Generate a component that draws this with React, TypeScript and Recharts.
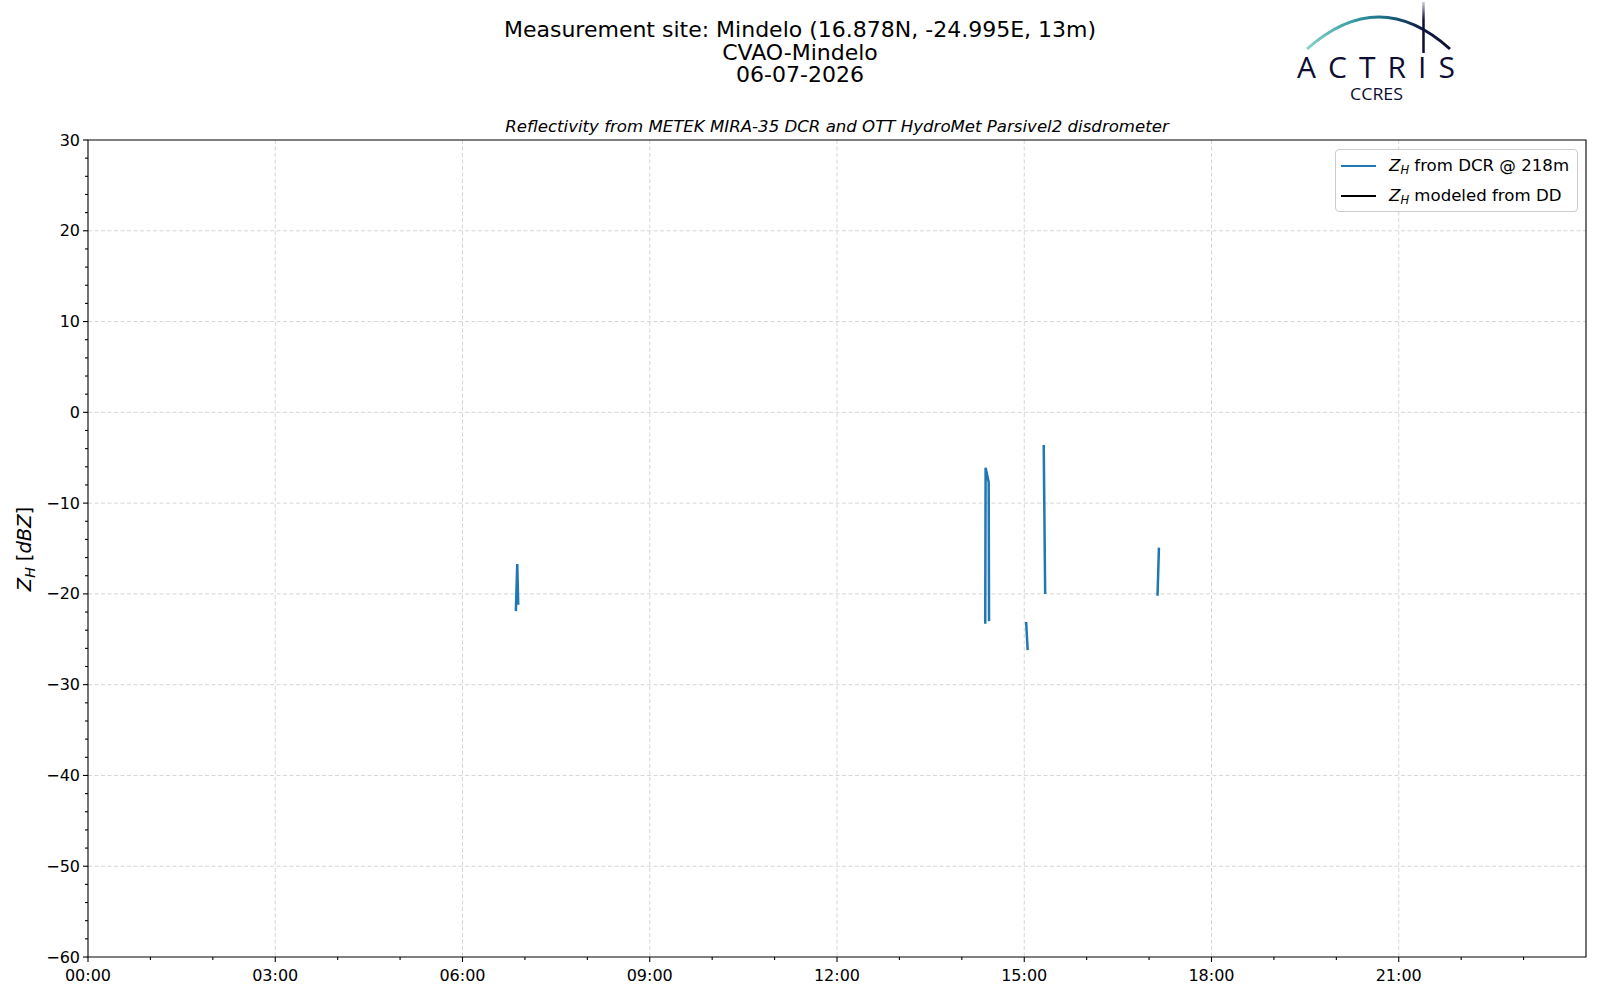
import React from 'react'
import {
  LineChart, Line, XAxis, YAxis, CartesianGrid, ReferenceArea, Label,
} from 'recharts'

// time of day in hours, null value = gap between radar samples
const times = [6.855, 6.877, 6.893, 10.0, 14.375, 14.381, 14.43, 14.436, 14.8, 15.03, 15.055, 15.2, 15.312, 15.335, 16.0, 17.135, 17.158]
const zhDcr: (number | null)[] = [-21.9, -16.7, -21.2, null, -23.3, -6.1, -7.7, -23.0, null, -23.1, -26.2, null, -3.6, -20.0, null, -20.2, -14.9]
// disdrometer modeled reflectivity: no data this day
const zhDd: (number | null)[] = []

const xTicks = [0, 1, 2, 3, 4, 5, 6, 7, 8, 9, 10, 11, 12, 13, 14, 15, 16, 17, 18, 19, 20, 21, 22, 23]
const xGrid = [3, 6, 9, 12, 15, 18, 21]
const yMajor = [-60, -50, -40, -30, -20, -10, 0, 10, 20, 30]
const yGrid = [-50, -40, -30, -20, -10, 0, 10, 20]
const yTicks: number[] = []
for (let v = -60; v <= 30; v += 2) yTicks.push(v)

const data = times.map((t, i) => ({ t, dcr: zhDcr[i], dd: zhDd[i] ?? null }))

const FONT = 'DejaVu Sans'
const BLUE = '#1f77b4'

function hh(h: number) {
  return `${String(h).padStart(2, '0')}:00`
}

function XTick(props: any) {
  const { x, y, payload } = props
  const major = payload.value % 3 === 0
  return (
    <g>
      <line x1={x} x2={x} y1={y} y2={y + (major ? 5 : 3)} stroke="#000" strokeWidth={1.1} />
      {major && (
        <text x={x} y={y + 24} textAnchor="middle" fontFamily={FONT} fontSize={16} fill="#000">{hh(payload.value)}</text>
      )}
    </g>
  )
}

function YTick(props: any) {
  const { x, y, payload } = props
  const v = payload.value
  const major = yMajor.includes(v)
  const txt = v < 0 ? '\u2212' + Math.abs(v) : String(v)
  return (
    <g>
      <line x1={x - (major ? 5 : 3)} x2={x} y1={y} y2={y} stroke="#000" strokeWidth={1.1} />
      {major && (
        <text x={x - 8} y={y} dy="0.35em" textAnchor="end" fontFamily={FONT} fontSize={16} fill="#000">{txt}</text>
      )}
    </g>
  )
}

function YLabel() {
  return (
    <text transform="rotate(-90, 24, 549)" x={24} y={549} dy="0.35em" textAnchor="middle" fontFamily={FONT} fontSize={19.5} fill="#000">
      <tspan fontStyle="italic">Z</tspan>
      <tspan fontStyle="italic" fontSize={14} dy={4}>H</tspan>
      <tspan dy={-4}> [</tspan>
      <tspan fontStyle="italic">dBZ</tspan>
      <tspan>]</tspan>
    </text>
  )
}

function LegendBox() {
  const row = (color: string, rest: string) => (
    <div style={{ display: 'flex', alignItems: 'center', height: 30 }}>
      <div style={{ width: 35, height: 2.2, background: color, marginLeft: 5, marginRight: 13 }} />
      <span style={{ fontFamily: FONT, fontSize: 16.6, whiteSpace: 'nowrap' }}>
        <i>Z</i><sub style={{ fontSize: 11.5, fontStyle: 'italic', verticalAlign: -3 }}>H</sub> {rest}
      </span>
    </div>
  )
  return (
    <div style={{
      position: 'absolute', left: 1335, top: 149,
      boxSizing: 'border-box', width: 243, height: 63, border: '1px solid #cccccc', borderRadius: 4,
      background: 'rgba(255,255,255,0.8)', paddingTop: 1,
    }}>
      {row(BLUE, 'from DCR @ 218m')}
      {row('#000', 'modeled from DD')}
    </div>
  )
}

function Logo() {
  return (
    <svg width={1600} height={110} style={{ position: 'absolute', left: 0, top: 0 }}>
      <defs>
        <linearGradient id="arc" x1="1307" x2="1450" y1="0" y2="0" gradientUnits="userSpaceOnUse">
          <stop offset="0" stopColor="#86d3cb" />
          <stop offset="0.3" stopColor="#3aa0a6" />
          <stop offset="0.55" stopColor="#1b6c84" />
          <stop offset="0.8" stopColor="#121b46" />
          <stop offset="1" stopColor="#0c0f33" />
        </linearGradient>
        <linearGradient id="mast" x1="0" x2="0" y1="2" y2="53" gradientUnits="userSpaceOnUse">
          <stop offset="0" stopColor="#0c0f33" stopOpacity="0.2" />
          <stop offset="0.35" stopColor="#0c0f33" />
          <stop offset="1" stopColor="#0c0f33" />
        </linearGradient>
      </defs>
      <path d="M1307 49 Q1379 -15 1450 49" fill="none" stroke="url(#arc)" strokeWidth={3} />
      <line x1={1423.5} x2={1423.5} y1={2} y2={53} stroke="url(#mast)" strokeWidth={2.5} />
      <text x={1297} y={78} textLength={158} lengthAdjust="spacing" fontFamily="Open Sans" fontSize={30} fill="#0c0f33">ACTRIS</text>
      <text x={1350} y={100} textLength={53} lengthAdjust="spacingAndGlyphs" fontFamily="Open Sans" fontSize={17} fill="#0c0f33">CCRES</text>
    </svg>
  )
}

export default function App() {
  return (
    <div style={{ position: 'relative', width: 1600, height: 1000, background: '#fff' }}>
      <style>{'body{margin:0}'}</style>
      <div style={{
        position: 'absolute', left: 0, top: 19, width: 1600, textAlign: 'center',
        fontFamily: FONT, fontSize: 22, lineHeight: '22.5px', color: '#000',
      }}>
        <div>Measurement site: Mindelo (16.878N, -24.995E, 13m)</div>
        <div>CVAO-Mindelo</div>
        <div>06-07-2026</div>
      </div>
      <div style={{
        position: 'absolute', left: 88, top: 117, width: 1498, textAlign: 'center',
        fontFamily: FONT, fontSize: 16.6, fontStyle: 'italic', lineHeight: '20px', color: '#000',
      }}>
        Reflectivity from METEK MIRA-35 DCR and OTT HydroMet Parsivel2 disdrometer
      </div>
      <Logo />
      <div style={{ position: 'absolute', left: 0, top: 0 }}>
        <LineChart width={1600} height={1000} data={data} margin={{ top: 140, right: 14, bottom: 0, left: 28 }}>
          <CartesianGrid stroke="#d6d6d6" strokeDasharray="4 2.5" horizontalValues={yGrid} verticalValues={xGrid} />
          <XAxis
            dataKey="t" type="number" domain={[0, 24]} ticks={xTicks} interval={0} allowDataOverflow
            height={43} tickSize={0} tickMargin={0} tickLine={false} axisLine={false}
            tick={(p: any) => <XTick {...p} />}
          />
          <YAxis
            type="number" domain={[-60, 30]} ticks={yTicks} interval={0} allowDataOverflow
            width={60} tickSize={0} tickMargin={0} tickLine={false} axisLine={false}
            tick={(p: any) => <YTick {...p} />}
          >
            <Label content={() => <YLabel />} />
          </YAxis>
          <ReferenceArea x1={0} x2={24} y1={-60} y2={30} fill="none" fillOpacity={0} stroke="#000" strokeWidth={1.1} ifOverflow="visible" />
          <Line dataKey="dcr" name="Z_H from DCR @ 218m" stroke={BLUE} strokeWidth={2.5} dot={false} connectNulls={false} isAnimationActive={false} />
          <Line dataKey="dd" name="Z_H modeled from DD" stroke="#000" strokeWidth={2.5} dot={false} connectNulls={false} isAnimationActive={false} />
        </LineChart>
      </div>
      <LegendBox />
    </div>
  )
}
